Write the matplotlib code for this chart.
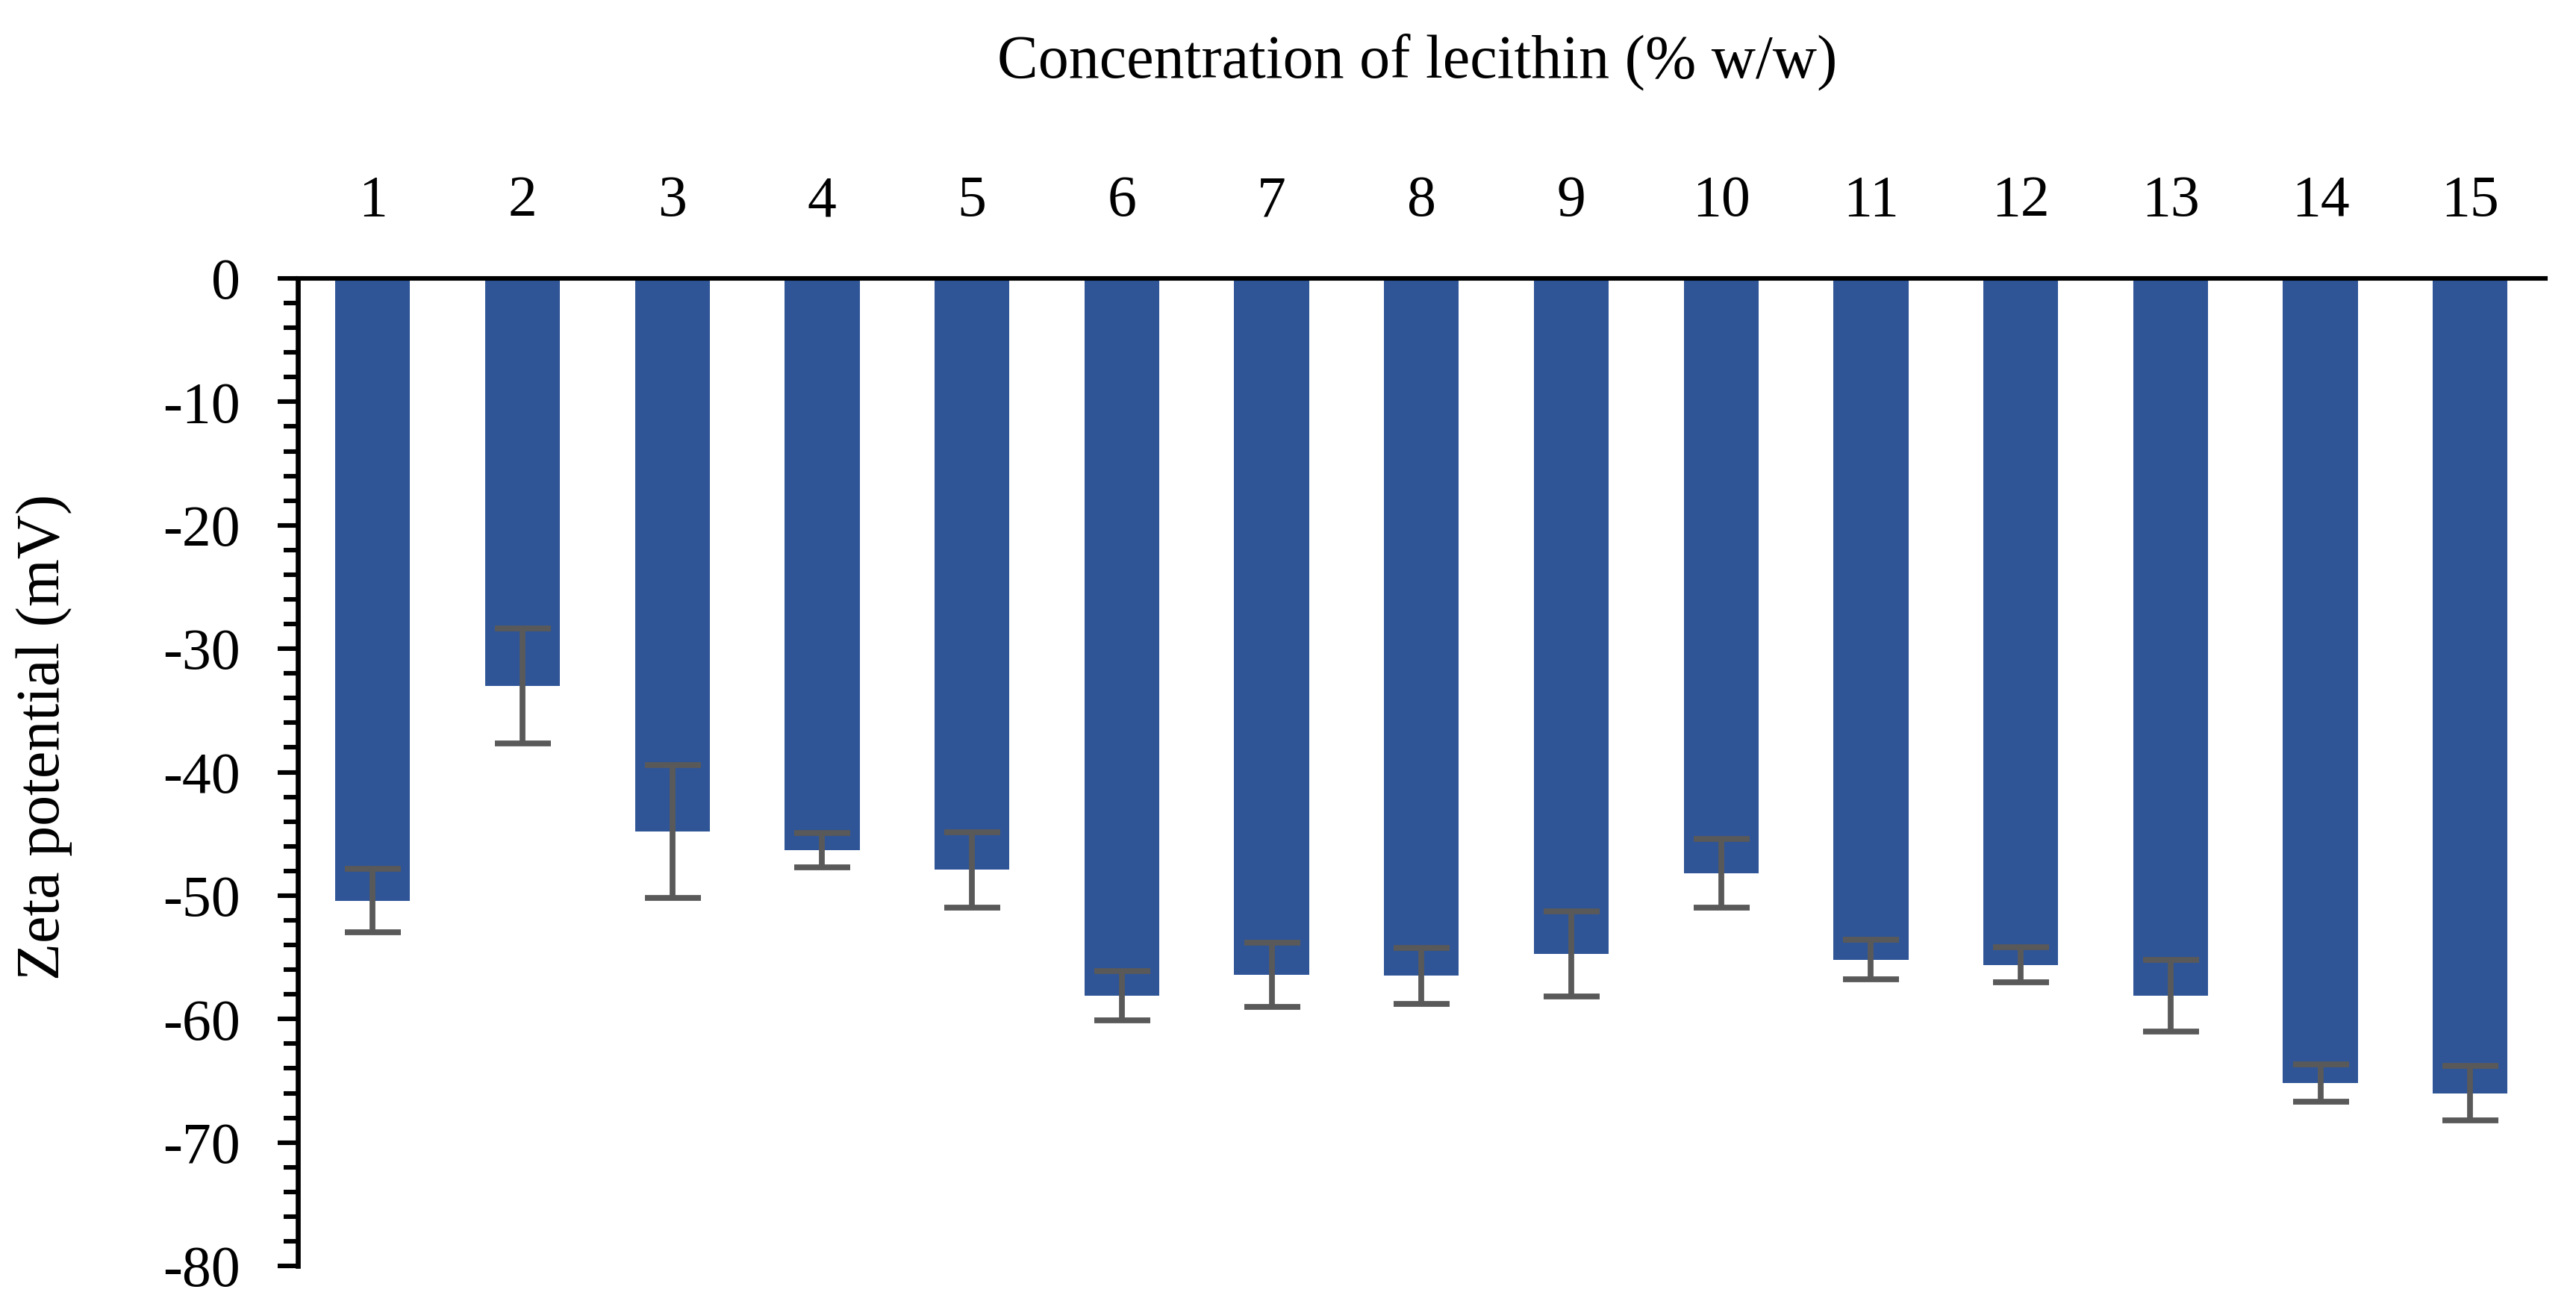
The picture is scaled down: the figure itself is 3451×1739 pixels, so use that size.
import numpy as np
import matplotlib.pyplot as plt
from matplotlib.ticker import MultipleLocator

# lecithin concentration (% w/w) and measured zeta potential
concentracion = ["1", "2", "3", "4", "5", "6", "7", "8", "9", "10", "11", "12", "13", "14", "15"]
zeta = [-50.4, -33.0, -44.8, -46.3, -47.9, -58.1, -56.4, -56.5, -54.7, -48.2, -55.2, -55.6, -58.1, -65.2, -66.0]
error = [2.55, 4.65, 5.4, 1.4, 3.05, 2.0, 2.6, 2.25, 3.45, 2.8, 1.6, 1.4, 2.9, 1.5, 2.2]

plt.rcParams["font.family"] = ["Liberation Serif", "DejaVu Serif"]
plt.rcParams["axes.unicode_minus"] = False

fig = plt.figure(figsize=(17.255, 8.695), dpi=200)
ax = fig.add_axes([0.1156, 0.0247, 0.988 - 0.1156, 0.7855 - 0.0247])

x = np.arange(len(concentracion))
ax.bar(x, zeta, width=0.5, color="#2F5597", zorder=2)
ax.errorbar(x, zeta, yerr=error, fmt="none", ecolor="#595959",
            elinewidth=2.8, capsize=13.5, capthick=2.8, zorder=3)

ax.set_xlim(-0.5, len(concentracion) - 0.5)
ax.set_ylim(-80, 0)
ax.set_xticks(x)
ax.set_xticklabels(concentracion)
ax.xaxis.tick_top()
ax.tick_params(axis="x", length=0, pad=24, labelsize=28)

ax.yaxis.set_major_locator(MultipleLocator(10))
ax.yaxis.set_minor_locator(MultipleLocator(2))
ax.tick_params(axis="y", which="major", length=9.7, width=2.2, pad=18, labelsize=28)
ax.tick_params(axis="y", which="minor", length=7, width=2.2)

for lado in ["right", "bottom"]:
    ax.spines[lado].set_visible(False)
ax.spines["left"].set_linewidth(2.4)
ax.spines["top"].set_linewidth(2.2)

fig.text(0.5502, 0.9408, "Concentration of lecithin (% w/w)", ha="center", va="baseline", fontsize=29.5)
fig.text(0.0171, 0.432, "Zeta potential (mV)", ha="center", va="center", rotation=90, fontsize=29.5)

fig.savefig("out.png", dpi=200)
